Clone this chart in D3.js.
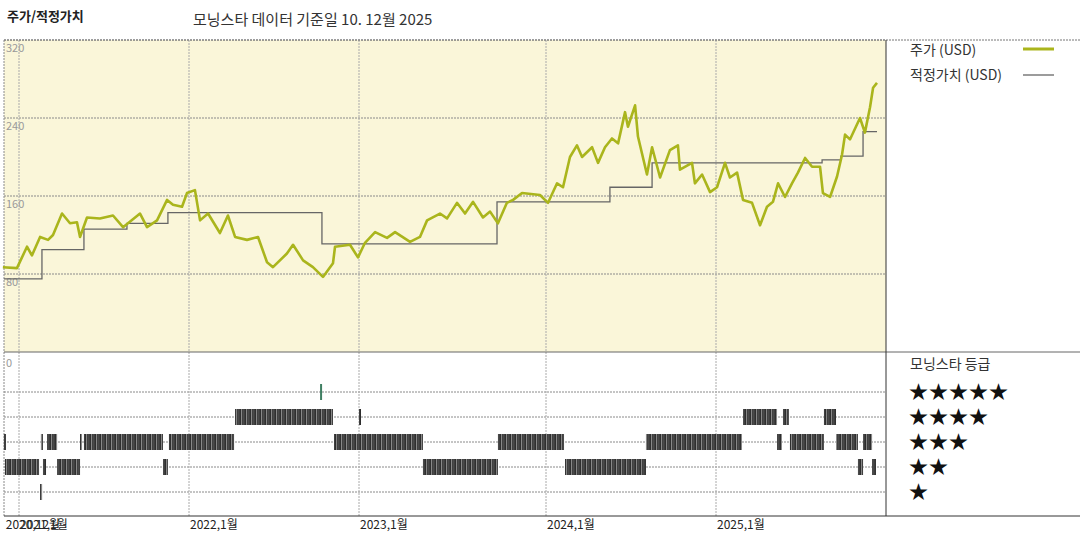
<!DOCTYPE html>
<html><head><meta charset="utf-8">
<script src="https://cdn.jsdelivr.net/npm/d3@7/dist/d3.min.js"></script>
<style>body{margin:0;background:#fff}text{font-family:"Noto Sans CJK KR","DejaVu Sans",sans-serif}</style>
</head><body><svg id="c" width="1080" height="540"></svg>
<script>
// decimal-year time stamps
const priceT = [2020.906,2020.988,2021.047,2021.076,2021.124,2021.171,2021.2,2021.253,2021.3,2021.341,2021.359,2021.4,2021.476,2021.553,2021.612,2021.712,2021.753,2021.812,2021.871,2021.906,2021.959,2021.988,2022.035,2022.065,2022.112,2022.182,2022.229,2022.271,2022.341,2022.406,2022.459,2022.494,2022.576,2022.612,2022.671,2022.729,2022.788,2022.847,2022.859,2022.947,2022.994,2023.032,2023.086,2023.15,2023.193,2023.273,2023.326,2023.364,2023.433,2023.471,2023.524,2023.567,2023.61,2023.663,2023.701,2023.743,2023.791,2023.824,2023.872,2023.968,2024.012,2024.065,2024.1,2024.141,2024.182,2024.212,2024.271,2024.306,2024.347,2024.388,2024.424,2024.465,2024.482,2024.524,2024.541,2024.594,2024.624,2024.671,2024.729,2024.776,2024.788,2024.859,2024.876,2024.918,2024.965,2025.006,2025.053,2025.082,2025.124,2025.159,2025.212,2025.259,2025.3,2025.335,2025.365,2025.406,2025.447,2025.482,2025.524,2025.565,2025.612,2025.629,2025.671,2025.712,2025.741,2025.759,2025.788,2025.847,2025.876,2025.906,2025.924,2025.947];
const priceV = [87,86,108,99,118,115,120,142,132,133,118,138,137,140,128,142,128,135,156,151,149,163,166,135,142,122,140,118,115,118,92,87,101,110,94,87,77,91,108,110,97,112,123,117,123,113,118,135,142,137,153,142,154,138,144,132,153,156,163,161,153,173,169,200,212,200,210,194,210,219,214,246,231,253,221,182,210,179,207,212,187,194,173,182,164,169,194,179,184,156,153,130,149,154,173,159,173,184,199,190,190,163,159,180,202,223,218,240,225,251,271,276];
const fairT = [2020.912,2021.135,2021.382,2021.635,2021.876,2022.782,2023.738,2024.376,2024.624,2025.624,2025.735,2025.865,2025.947];
const fairV = [75,105,126,132,143,111,154,169,194,197,201,226,226];
// rating segments: start, end (decimal year), stars
const ratingStart = [2020.912,2020.918,2021.124,2021.129,2021.141,2021.165,2021.224,2021.359,2021.382,2021.847,2021.882,2022.271,2022.771,2022.853,2023.0,2023.342,2023.743,2024.112,2024.588,2025.159,2025.359,2025.394,2025.435,2025.635,2025.706,2025.835,2025.865,2025.918];
const ratingEnd   = [2020.918,2021.118,2021.129,2021.141,2021.159,2021.224,2021.359,2021.365,2021.847,2021.876,2022.265,2022.847,2022.776,2023.342,2023.005,2023.743,2024.106,2024.588,2025.153,2025.359,2025.388,2025.429,2025.635,2025.706,2025.835,2025.865,2025.918,2025.941];
const ratingStars = [3,2,1,3,2,3,2,3,3,2,3,4,5,3,4,2,3,2,3,4,3,4,3,4,3,2,3,2];
const yTicks = [80,160,240,320];
const xTickT = [2020.917,2021,2022,2023,2024,2025];
const xTickLabels = ["2020,12월","2021,1월","2022,1월","2023,1월","2024,1월","2025,1월"];
const starLabels = ["★★★★★","★★★★","★★★","★★","★"];

const toDate = t => { const y = Math.floor(t), f = t - y;
  const a = new Date(y,0,1), b = new Date(y+1,0,1); return new Date(+a + f*(b-a)); };

const svg = d3.select("#c");
const L=4, R=886, T=40, M=352, B=516;
const x = d3.scaleTime()
  .domain([new Date(2020,10,30),new Date(2021,0,1),new Date(2022,0,1),new Date(2023,0,1),new Date(2024,0,1),new Date(2025,0,1),new Date(2026,0,1)])
  .range([L,19,189,359,546,716,R]);
const y = d3.scaleLinear().domain([0,320]).range([M,T]);
const yr = d3.scaleLinear().domain([5,1]).range([392,492]);

svg.append("rect").attr("x",L).attr("y",T).attr("width",R-L).attr("height",M-T).attr("fill","#faf6d9");
const grid = "#8a8a8a";
yTicks.forEach(v=>{
  svg.append("line").attr("x1",L).attr("x2",R).attr("y1",y(v)).attr("y2",y(v)).attr("stroke",grid).attr("stroke-dasharray","2,1");
  svg.append("text").attr("x",6).attr("y",y(v)+12).attr("font-size",11).attr("fill","#999").text(v);
});
[5,4,3,2,1].forEach(r=>svg.append("line").attr("x1",L).attr("x2",R).attr("y1",yr(r)).attr("y2",yr(r)).attr("stroke",grid).attr("stroke-dasharray","2,1"));
svg.append("text").attr("x",6).attr("y",367).attr("font-size",11).attr("fill","#999").text("0");
xTickT.slice(1).forEach(t=>svg.append("line").attr("x1",x(toDate(t))).attr("x2",x(toDate(t))).attr("y1",T).attr("y2",B).attr("stroke","#aaa").attr("stroke-dasharray","2,1"));
svg.append("line").attr("x1",L).attr("x2",L).attr("y1",T).attr("y2",B).attr("stroke",grid).attr("stroke-dasharray","2,1");
svg.append("line").attr("x1",L).attr("x2",1080).attr("y1",T).attr("y2",T).attr("stroke","#777").attr("stroke-dasharray","2,1");
svg.append("line").attr("x1",L).attr("x2",1080).attr("y1",M).attr("y2",M).attr("stroke","#666");
svg.append("line").attr("x1",L).attr("x2",1080).attr("y1",B).attr("y2",B).attr("stroke","#333");
svg.append("line").attr("x1",R).attr("x2",R).attr("y1",T).attr("y2",B).attr("stroke","#333");

const fair = fairT.map((t,i)=>({d:toDate(t),v:fairV[i]}));
svg.append("path").datum(fair).attr("fill","none").attr("stroke","#666").attr("stroke-width",1.3)
  .attr("d",d3.line().curve(d3.curveStepAfter).x(d=>x(d.d)).y(d=>y(d.v)));
const price = priceT.map((t,i)=>({d:toDate(t),v:priceV[i]}));
svg.append("path").datum(price).attr("fill","none").attr("stroke","#aab51c").attr("stroke-width",2.6).attr("stroke-linejoin","round")
  .attr("d",d3.line().x(d=>x(d.d)).y(d=>y(d.v)));

const defs = svg.append("defs");
const pat = defs.append("pattern").attr("id","hatch").attr("patternUnits","userSpaceOnUse").attr("width",5).attr("height",20);
pat.append("rect").attr("width",5).attr("height",20).attr("fill","#2e2e2e");
pat.append("rect").attr("x",1).attr("width",1.2).attr("height",20).attr("fill","#888");
pat.append("rect").attr("x",3.5).attr("width",0.8).attr("height",20).attr("fill","#666");
ratingStars.forEach((s,i)=>{
  const x0 = x(toDate(ratingStart[i])), x1 = x(toDate(ratingEnd[i]));
  svg.append("rect").attr("x",x0).attr("y",yr(s)-8).attr("width",Math.max(2,x1-x0)).attr("height",16)
    .attr("fill", s===5 ? "#3f7f62" : "url(#hatch)");
});

xTickT.forEach((t,i)=>svg.append("text").attr("x",x(toDate(t))+1).attr("y",529).attr("font-size",12).attr("fill","#222").text(xTickLabels[i]));

svg.append("text").attr("x",7).attr("y",21).attr("font-size",13).attr("font-weight","bold").attr("fill","#222").text("주가/적정가치");
svg.append("text").attr("x",193).attr("y",25).attr("font-size",15).attr("fill","#333").text("모닝스타 데이터 기준일 10. 12월 2025");
svg.append("text").attr("x",910).attr("y",55).attr("font-size",14).attr("fill","#333").text("주가 (USD)");
svg.append("line").attr("x1",1023).attr("x2",1054).attr("y1",49).attr("y2",49).attr("stroke","#aab51c").attr("stroke-width",3);
svg.append("text").attr("x",910).attr("y",80).attr("font-size",14).attr("fill","#333").text("적정가치 (USD)");
svg.append("line").attr("x1",1023).attr("x2",1054).attr("y1",75).attr("y2",75).attr("stroke","#666").attr("stroke-width",1.3);
svg.append("text").attr("x",910).attr("y",369).attr("font-size",14).attr("fill","#333").text("모닝스타 등급");
starLabels.forEach((s,i)=>svg.append("text").attr("x",909).attr("y",yr(5-i)+7).attr("font-size",19).attr("fill","#111").attr("font-family","DejaVu Sans").attr("letter-spacing","1").text(s));
</script></body></html>
